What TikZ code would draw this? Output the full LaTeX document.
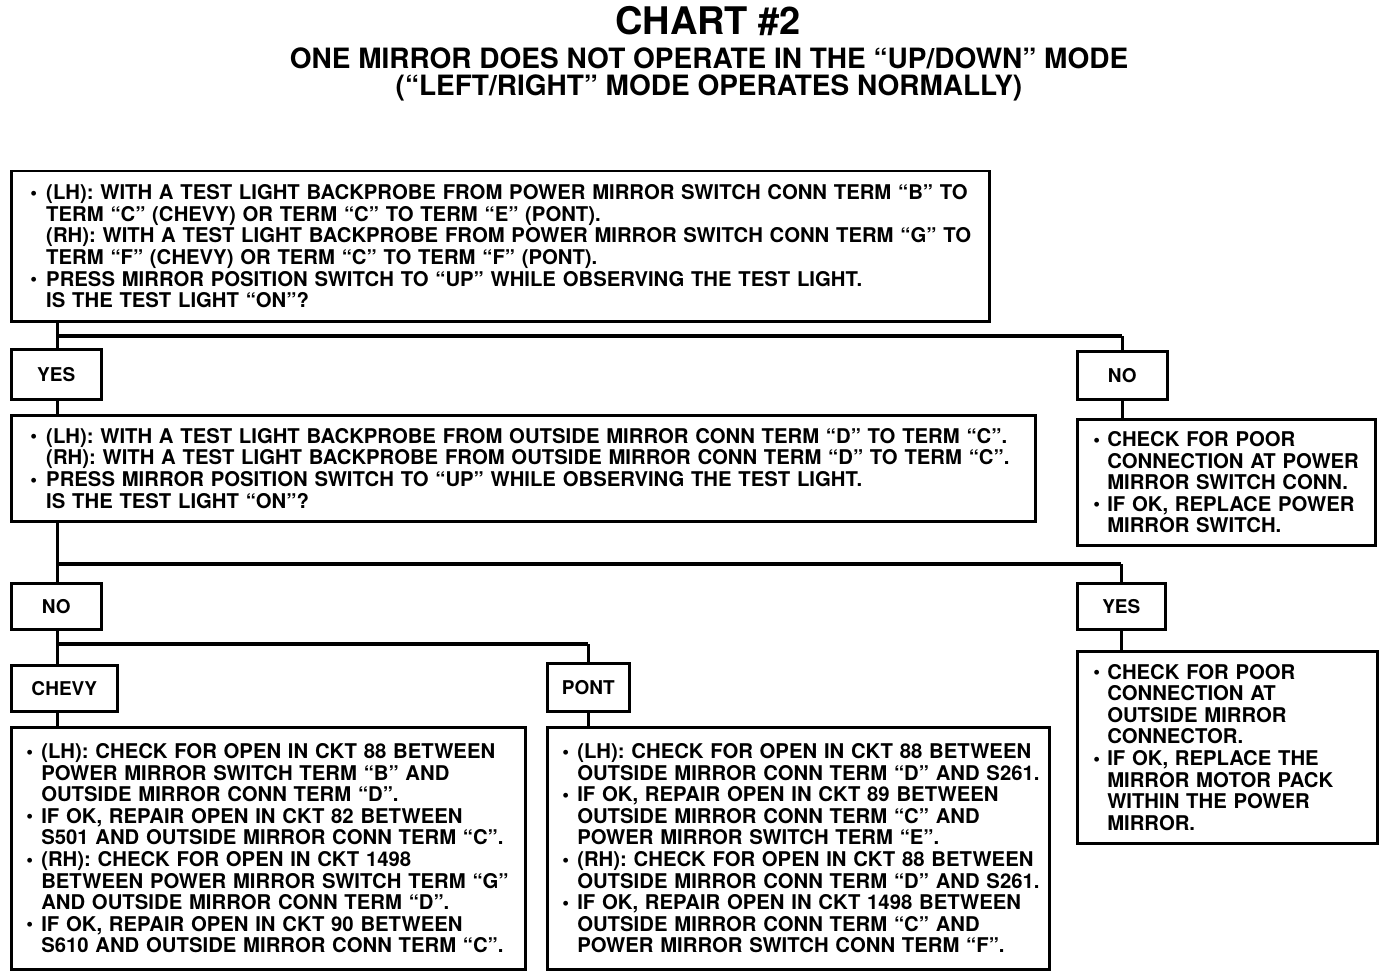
\documentclass[tikz,border=0pt]{standalone}
\usepackage{fontspec}
\usepackage{graphicx}
\setmainfont{TeX Gyre Heros}
\newlength\bw
\newcommand\Bu[1]{\mbox{\makebox[\bw][l]{\raisebox{0.02em}{\scalebox{0.95}{\textbullet}}}#1}}
\newcommand\In[1]{\mbox{\hspace*{\bw}#1}}
\begin{document}
\begin{tikzpicture}[x=1pt,y=-1pt,
  box/.style={draw, line width=2.5pt, anchor=north west, align=left, inner ysep=0pt,
    font=\bfseries\fontsize{20.3}{21.6}\selectfont},
  lab/.style={draw, line width=2.5pt, anchor=north west, inner sep=0pt,
    font=\bfseries\fontsize{19}{19}\selectfont},
  conn/.style={line width=3pt},
  bar/.style={line width=4.5pt}]
\useasboundingbox (0,0) rectangle (1392,976);
\fill[white] (0,0) rectangle (1392,976);

\node[font=\bfseries\fontsize{38}{38}\selectfont] (title) at (708,21) {CHART \#2};
\node[font=\bfseries\fontsize{28}{28}\selectfont] (sub1) at (709,58) {ONE MIRROR DOES NOT OPERATE IN THE “UP/DOWN” MODE};
\node[font=\bfseries\fontsize{28}{28}\selectfont] (sub2) at (709,88) {(“LEFT/RIGHT” MODE OPERATES NORMALLY)};

\node[box, text width=940pt, inner xsep=19pt, minimum height=150pt,
  execute at begin node={\setlength\bw{16pt}}] (q1) at (10,170) {%
\Bu{(LH): WITH A TEST LIGHT BACKPROBE FROM POWER MIRROR SWITCH CONN TERM “B” TO}\\
\In{TERM “C” (CHEVY) OR TERM “C” TO TERM “E” (PONT).}\\
\In{(RH): WITH A TEST LIGHT BACKPROBE FROM POWER MIRROR SWITCH CONN TERM “G” TO}\\
\In{TERM “F” (CHEVY) OR TERM “C” TO TERM “F” (PONT).}\\
\Bu{PRESS MIRROR POSITION SWITCH TO “UP” WHILE OBSERVING THE TEST LIGHT.}\\
\In{IS THE TEST LIGHT “ON”?}};

\node[lab, minimum width=90pt, minimum height=50pt] (yes1) at (10,348) {YES};
\node[lab, minimum width=90pt, minimum height=48pt] (no1) at (1076,350) {NO};

\node[box, text width=986pt, inner xsep=19pt, minimum height=106pt,
  execute at begin node={\setlength\bw{16pt}}] (q2) at (10,414) {%
\Bu{(LH): WITH A TEST LIGHT BACKPROBE FROM OUTSIDE MIRROR CONN TERM “D” TO TERM “C”.}\\
\In{(RH): WITH A TEST LIGHT BACKPROBE FROM OUTSIDE MIRROR CONN TERM “D” TO TERM “C”.}\\
\Bu{PRESS MIRROR POSITION SWITCH TO “UP” WHILE OBSERVING THE TEST LIGHT.}\\
\In{IS THE TEST LIGHT “ON”?}};

\node[box, text width=266pt, inner xsep=16pt, minimum height=126pt,
  execute at begin node={\setlength\bw{14pt}}] (r1) at (1076,418) {%
\Bu{CHECK FOR POOR}\\
\In{CONNECTION AT POWER}\\
\In{MIRROR SWITCH CONN.}\\
\Bu{IF OK, REPLACE POWER}\\
\In{MIRROR SWITCH.}};

\node[lab, minimum width=90pt, minimum height=46pt] (no2) at (10,582) {NO};
\node[lab, minimum width=88pt, minimum height=46pt] (yes2) at (1076,582) {YES};

\node[box, text width=268pt, inner xsep=16pt, minimum height=192pt,
  execute at begin node={\setlength\bw{14pt}}] (r2) at (1076,650) {%
\Bu{CHECK FOR POOR}\\
\In{CONNECTION AT}\\
\In{OUTSIDE MIRROR}\\
\In{CONNECTOR.}\\
\Bu{IF OK, REPLACE THE}\\
\In{MIRROR MOTOR PACK}\\
\In{WITHIN THE POWER}\\
\In{MIRROR.}};

\node[lab, minimum width=106pt, minimum height=46pt] (chevy) at (10,664) {CHEVY};
\node[lab, minimum width=82pt, minimum height=48pt] (pont) at (546,662) {PONT};

\node[box, text width=484pt, inner xsep=15pt, minimum height=242pt,
  execute at begin node={\setlength\bw{15pt}}] (a1) at (10,726) {%
\Bu{(LH): CHECK FOR OPEN IN CKT 88 BETWEEN}\\
\In{POWER MIRROR SWITCH TERM “B” AND}\\
\In{OUTSIDE MIRROR CONN TERM “D”.}\\
\Bu{IF OK, REPAIR OPEN IN CKT 82 BETWEEN}\\
\In{S501 AND OUTSIDE MIRROR CONN TERM “C”.}\\
\Bu{(RH): CHECK FOR OPEN IN CKT 1498}\\
\In{BETWEEN POWER MIRROR SWITCH TERM “G”}\\
\In{AND OUTSIDE MIRROR CONN TERM “D”.}\\
\Bu{IF OK, REPAIR OPEN IN CKT 90 BETWEEN}\\
\In{S610 AND OUTSIDE MIRROR CONN TERM “C”.}};

\node[box, text width=472pt, inner xsep=15pt, minimum height=242pt,
  execute at begin node={\setlength\bw{15pt}}] (a2) at (546,726) {%
\Bu{(LH): CHECK FOR OPEN IN CKT 88 BETWEEN}\\
\In{OUTSIDE MIRROR CONN TERM “D” AND S261.}\\
\Bu{IF OK, REPAIR OPEN IN CKT 89 BETWEEN}\\
\In{OUTSIDE MIRROR CONN TERM “C” AND}\\
\In{POWER MIRROR SWITCH TERM “E”.}\\
\Bu{(RH): CHECK FOR OPEN IN CKT 88 BETWEEN}\\
\In{OUTSIDE MIRROR CONN TERM “D” AND S261.}\\
\Bu{IF OK, REPAIR OPEN IN CKT 1498 BETWEEN}\\
\In{OUTSIDE MIRROR CONN TERM “C” AND}\\
\In{POWER MIRROR SWITCH CONN TERM “F”.}};

% connectors
\coordinate (tx) at (57,0);
\coordinate (j1) at (57,336);
\coordinate (j2) at (57,564);
\coordinate (j3) at (57,644);
\draw[conn] (q1.south -| tx) -- (yes1.north -| tx);
\draw[bar] (j1) -- (j1 -| no1.north);
\draw[conn] (j1 -| no1.north) -- (no1.north);
\draw[conn] (yes1.south -| tx) -- (q2.north -| tx);
\draw[conn] (no1.south) -- (no1.south |- r1.north);
\draw[conn] (q2.south -| tx) -- (no2.north -| tx);
\draw[bar] (j2) -- (j2 -| yes2.north);
\draw[conn] (j2 -| yes2.north) -- (yes2.north);
\draw[conn] (yes2.south) -- (yes2.south |- r2.north);
\draw[conn] (no2.south -| tx) -- (chevy.north -| tx);
\draw[bar] (j3) -- (j3 -| pont.north);
\draw[conn] (j3 -| pont.north) -- (pont.north);
\draw[conn] (chevy.south -| tx) -- (a1.north -| tx);
\draw[conn] (pont.south) -- (pont.south |- a2.north);
\end{tikzpicture}
\end{document}
